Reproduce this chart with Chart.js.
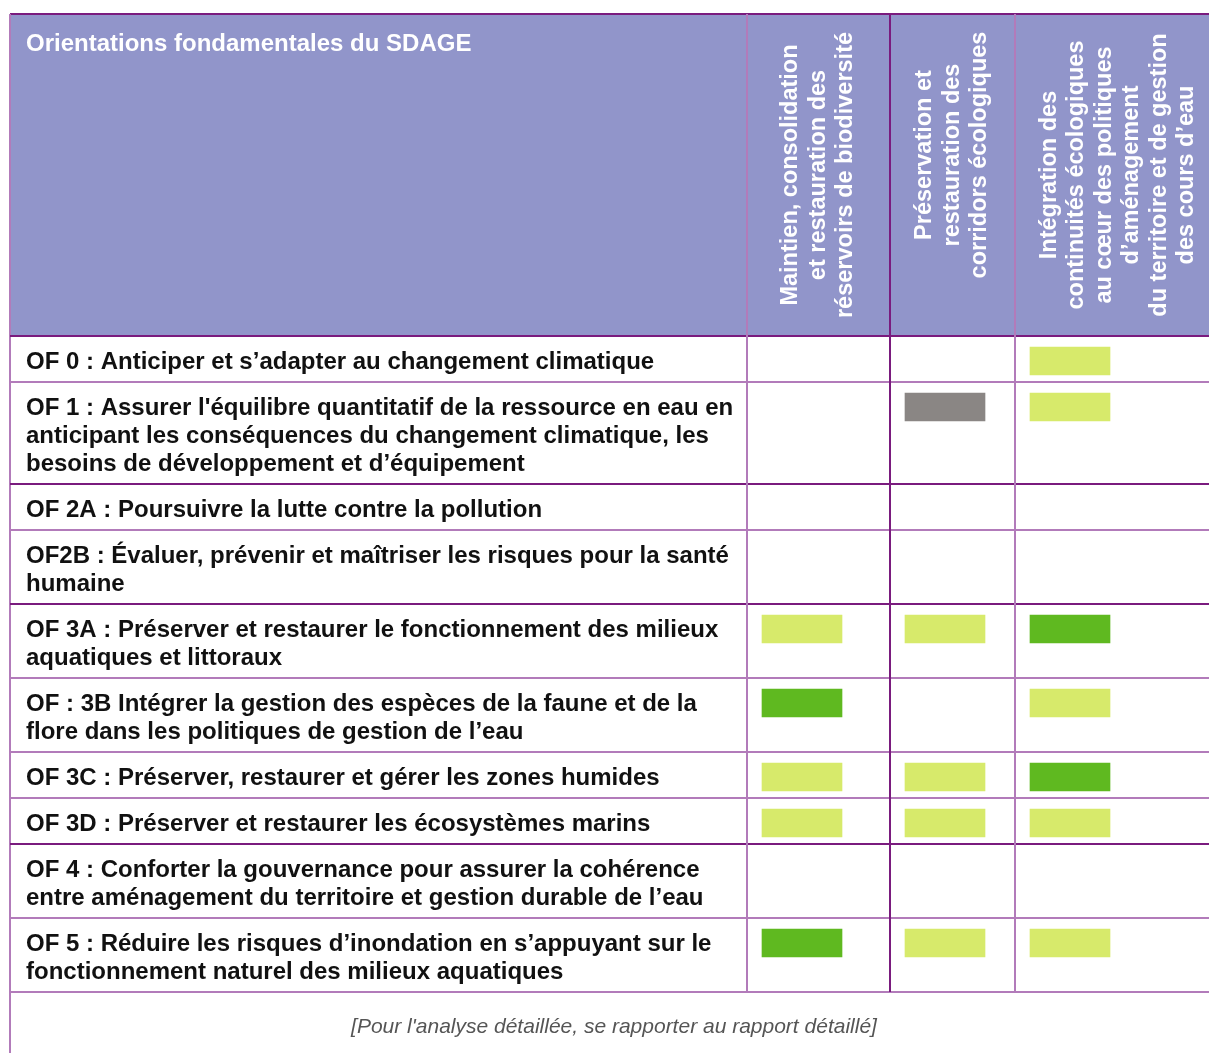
<!DOCTYPE html>
<html>
<head>
<meta charset="utf-8">
<title>Orientations fondamentales du SDAGE</title>
<script src="https://cdn.jsdelivr.net/npm/chart.js@4/dist/chart.umd.min.js"></script>
<style>
    html, body { margin: 0; padding: 0; background: #fff; }
</style>
</head>
<body>
<canvas id="tableauSdage" width="1209" height="1053"></canvas>
<script>
const titreTableau = 'Orientations fondamentales du SDAGE';
const noteBas = "[Pour l'analyse détaillée, se rapporter au rapport détaillé]";

const colonnes = [
    ['Maintien, consolidation', 'et restauration des', 'réservoirs de biodiversité'],
    ['Préservation et', 'restauration des', 'corridors écologiques'],
    ['Intégration des', 'continuités écologiques', 'au cœur des politiques', 'd’aménagement', 'du territoire et de gestion', 'des cours d’eau']
];

const orientations = [
    ['OF 0 : Anticiper et s’adapter au changement climatique'],
    ["OF 1 : Assurer l'équilibre quantitatif de la ressource en eau en", 'anticipant les conséquences du changement climatique, les', 'besoins de développement et d’équipement'],
    ['OF 2A : Poursuivre la lutte contre la pollution'],
    ['OF2B : Évaluer, prévenir et maîtriser les risques pour la santé', 'humaine'],
    ['OF 3A : Préserver et restaurer le fonctionnement des milieux', 'aquatiques et littoraux'],
    ['OF : 3B Intégrer la gestion des espèces de la faune et de la', 'flore dans les politiques de gestion de l’eau'],
    ['OF 3C : Préserver, restaurer et gérer les zones humides'],
    ['OF 3D : Préserver et restaurer les écosystèmes marins'],
    ['OF 4 : Conforter la gouvernance pour assurer la cohérence', 'entre aménagement du territoire et gestion durable de l’eau'],
    ['OF 5 : Réduire les risques d’inondation en s’appuyant sur le', 'fonctionnement naturel des milieux aquatiques']
];

// 0 = rien, 1 = vert clair, 2 = vert foncé, 3 = gris
const reservoirs = [0, 0, 0, 0, 1, 2, 1, 1, 0, 2];
const corridors = [0, 3, 0, 0, 1, 0, 1, 1, 0, 1];
const integration = [1, 1, 0, 0, 2, 1, 2, 1, 0, 1];

const couleurs = ['rgba(0,0,0,0)', '#d7ea6b', '#5fb920', '#8a8684'];

// mise en page
const violetFonce = '#7a1b7e';
const violetClair = '#b27bba';
const fondEnTete = '#9195ca';
const hautTableau = 14;
const basEnTete = 336;
const gaucheTableau = 10;
const debutColonnes = 747;
const largeursColonnes = [143, 125, 206];
const centresEnTete = [175, 155, 175];
const policeTexte = 'Liberation Sans, Arial, Helvetica, sans-serif';

const hauteursLignes = orientations.map(l => 18 + 28 * l.length);
const hautsLignes = [];
let cumul = 0;
hauteursLignes.forEach(h => { hautsLignes.push(cumul); cumul += h; });
const hauteurCorps = cumul;
const debutsColonnes = [];
let cx = 0;
largeursColonnes.forEach(w => { debutsColonnes.push(cx); cx += w; });
const largeurVisible = 1209 - debutColonnes;

const series = [reservoirs, corridors, integration];
const datasets = series.map((niveaux, j) => {
    const points = [];
    niveaux.forEach((n, i) => {
        if (n > 0) {
            points.push({ x: [debutsColonnes[j] + 15, debutsColonnes[j] + 95], y: hautsLignes[i] + 25, niveau: n });
        }
    });
    return {
        label: colonnes[j].join(' '),
        data: points,
        backgroundColor: points.map(p => couleurs[p.niveau]),
        borderWidth: 0,
        barThickness: 28,
        grouped: false
    };
});

const pluginTableau = {
    id: 'pluginTableau',
    beforeDraw(chart) {
        const ctx = chart.ctx;
        ctx.save();
        ctx.fillStyle = '#ffffff';
        ctx.fillRect(0, 0, chart.width, chart.height);
        ctx.fillStyle = fondEnTete;
        ctx.fillRect(gaucheTableau, hautTableau, chart.width - gaucheTableau, basEnTete - hautTableau);
        ctx.restore();
    },
    afterDraw(chart) {
        const ctx = chart.ctx;
        const yBas = basEnTete + hauteurCorps;
        ctx.save();

        // en-tête
        ctx.fillStyle = '#ffffff';
        ctx.font = 'bold 24px ' + policeTexte;
        ctx.textAlign = 'left';
        ctx.textBaseline = 'middle';
        ctx.fillText(titreTableau, 26, 44);

        ctx.font = 'bold 23.5px ' + policeTexte;
        ctx.textAlign = 'center';
        colonnes.forEach((lignes, j) => {
            const centreX = debutColonnes + debutsColonnes[j] + largeursColonnes[j] / 2;
            lignes.forEach((t, k) => {
                const x = centreX + (k - (lignes.length - 1) / 2) * 27.5;
                ctx.save();
                ctx.translate(x, centresEnTete[j]);
                ctx.rotate(-Math.PI / 2);
                ctx.fillText(t, 0, 0);
                ctx.restore();
            });
        });

        // traits
        const trait = (x1, y1, x2, y2, couleur, ep) => {
            ctx.strokeStyle = couleur;
            ctx.lineWidth = ep;
            ctx.beginPath();
            ctx.moveTo(x1, y1);
            ctx.lineTo(x2, y2);
            ctx.stroke();
        };
        trait(gaucheTableau, hautTableau, chart.width, hautTableau, violetFonce, 2);
        trait(gaucheTableau, hautTableau, gaucheTableau, chart.height, violetClair, 2);
        trait(gaucheTableau, basEnTete, chart.width, basEnTete, violetFonce, 2);
        const foncees = [1, 3, 7];
        hautsLignes.forEach((h, i) => {
            const y = basEnTete + h + hauteursLignes[i];
            trait(gaucheTableau, y, chart.width, y, foncees.includes(i) ? violetFonce : violetClair, 2);
        });
        debutsColonnes.forEach((d, j) => {
            const x = debutColonnes + d;
            trait(x, hautTableau, x, yBas, j === 1 ? violetFonce : violetClair, 2);
        });

        // note
        ctx.fillStyle = '#555555';
        ctx.font = 'italic 21px ' + policeTexte;
        ctx.textAlign = 'center';
        ctx.fillText(noteBas, 614, 1027);
        ctx.restore();
    }
};

const ctx = document.getElementById('tableauSdage').getContext('2d');
new Chart(ctx, {
    type: 'bar',
    data: { datasets: datasets },
    options: {
        responsive: false,
        animation: false,
        indexAxis: 'y',
        layout: {
            padding: { top: basEnTete, left: 26, right: 0, bottom: 1053 - basEnTete - hauteurCorps }
        },
        scales: {
            x: {
                type: 'linear',
                min: 0,
                max: largeurVisible,
                display: false
            },
            y: {
                type: 'linear',
                min: 0,
                max: hauteurCorps,
                reverse: true,
                offset: false,
                grid: { display: false },
                border: { display: false },
                afterFit: function(scale) {
                    scale.width = debutColonnes - 26;
                },
                afterBuildTicks: function(scale) {
                    scale.ticks = hautsLignes.map((h, i) => ({ value: h + hauteursLignes[i] / 2 + 3 }));
                },
                ticks: {
                    autoSkip: false,
                    crossAlign: 'far',
                    padding: 0,
                    color: '#111111',
                    font: { family: policeTexte, size: 24, weight: 'bold', lineHeight: 28 / 24 },
                    callback: function(value, index) {
                        return orientations[index];
                    }
                }
            }
        },
        plugins: {
            legend: { display: false },
            tooltip: { enabled: false }
        }
    },
    plugins: [pluginTableau]
});
</script>
</body>
</html>
